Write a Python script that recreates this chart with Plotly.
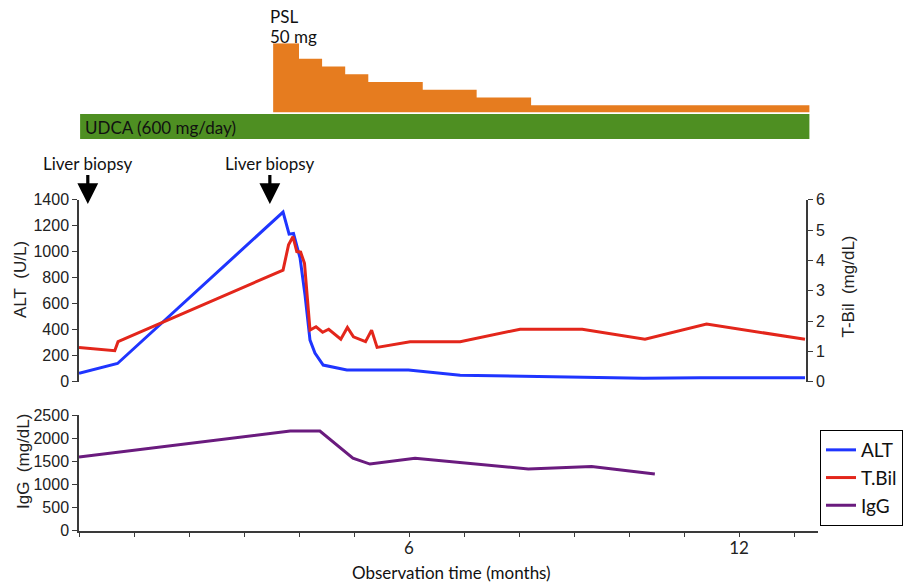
import plotly.graph_objects as go

W, H = 906, 584

# ---------------- data ----------------
alt_months = [0, 0.70, 3.71, 3.82, 3.90, 4.02, 4.11, 4.20, 4.29, 4.44, 4.87, 5.99,
              6.93, 9.11, 10.26, 11.29, 13.20]
alt_values = [65, 140, 1305, 1135, 1140, 950, 665, 320, 220, 128, 90, 90,
              50, 35, 26, 30, 30]

tbil_months = [0, 0.65, 0.71, 3.71, 3.81, 3.89, 3.96, 4.03, 4.10, 4.20, 4.31, 4.43,
               4.54, 4.76, 4.88, 4.99, 5.21, 5.32, 5.42, 6.02, 6.93, 8.02, 9.15,
               10.29, 11.41, 13.20]
tbil_values = [1.13, 1.02, 1.32, 3.68, 4.51, 4.78, 4.29, 4.27, 3.90, 1.70, 1.81, 1.63,
               1.73, 1.40, 1.79, 1.48, 1.32, 1.70, 1.13, 1.32, 1.32, 1.73, 1.73,
               1.40, 1.90, 1.40]

igg_months = [0, 3.84, 4.38, 4.98, 5.29, 6.11, 8.17, 9.32, 10.47]
igg_values = [1590, 2155, 2155, 1565, 1440, 1565, 1335, 1385, 1225]

psl_months = [3.53, 4.00, 4.42, 4.84, 5.26, 6.25, 7.23, 8.22, 13.28]
psl_doses = [50, 40, 35, 30, 25, 20, 15, 10, 10]

udca_start = 0.02
udca_end = 13.28
udca_label = "UDCA (600 mg/day)"

biopsy_months = [0.16, 3.47]
biopsy_label = "Liver biopsy"

x_tick_vals = list(range(14))
x_tick_text = ["" if m not in (6, 12) else str(m) for m in x_tick_vals]
alt_ticks = [0, 200, 400, 600, 800, 1000, 1200, 1400]
tbil_ticks = [0, 1, 2, 3, 4, 5, 6]
igg_ticks = [0, 500, 1000, 1500, 2000, 2500]

# ---------------- styling helpers ----------------
def fx(p):
    return p / W

def fy(p):
    return 1 - p / H

PX_PER_MONTH = 55.0
X0 = 79
HUM = "Lato, 'Open Sans', sans-serif"
ARI = "Arial, 'Liberation Sans', sans-serif"
AXC = "#3a3a3a"
C_ALT = "#1f35ff"
C_TBIL = "#e3261b"
C_IGG = "#6a1b7e"
C_PSL = "#e67c1f"
C_UDCA = "#4e8f22"

fig = go.Figure()

# top panel: PSL step dose, UDCA bar
fig.add_trace(go.Scatter(x=psl_months, y=psl_doses, mode="lines", line=dict(shape="hv", width=0, color=C_PSL),
                         fill="tozeroy", fillcolor=C_PSL, xaxis="x3", yaxis="y3", showlegend=False,
                         hoverinfo="skip"))
fig.add_trace(go.Bar(x=[udca_end - udca_start], base=[udca_start], y=[0], orientation="h", width=1,
                     marker=dict(color=C_UDCA, line=dict(width=0)), xaxis="x3", yaxis="y4",
                     showlegend=False, hoverinfo="skip"))

# middle panel
fig.add_trace(go.Scatter(x=alt_months, y=alt_values, mode="lines", name="ALT",
                         line=dict(color=C_ALT, width=3), xaxis="x2", yaxis="y2"))
fig.add_trace(go.Scatter(x=tbil_months, y=tbil_values, mode="lines", name="T.Bil",
                         line=dict(color=C_TBIL, width=3), xaxis="x2", yaxis="y5"))
# bottom panel
fig.add_trace(go.Scatter(x=igg_months, y=igg_values, mode="lines", name="IgG",
                         line=dict(color=C_IGG, width=3), xaxis="x", yaxis="y"))

axis_common = dict(showgrid=False, zeroline=False, showline=True, linecolor=AXC, linewidth=1.5,
                   ticks="outside", ticklen=5, tickwidth=1.3, tickcolor=AXC, automargin=False,
                   tickfont=dict(family=ARI, size=16, color="#222"))
hidden = dict(visible=False, automargin=False, showgrid=False, zeroline=False)

fig.update_layout(
    width=W, height=H, margin=dict(l=0, r=0, t=0, b=0, autoexpand=False),
    paper_bgcolor="white", plot_bgcolor="rgba(0,0,0,0)",
    xaxis=dict(domain=[fx(X0), fx(818)], range=[0, (818 - X0) / PX_PER_MONTH], anchor="y",
               tickvals=x_tick_vals, ticktext=x_tick_text, ticklabelstandoff=-4,
               **{**axis_common, "tickfont": dict(family=HUM, size=17, color="#222")}),
    yaxis=dict(domain=[fy(530.7), fy(415)], range=[0, 2500], tickvals=igg_ticks, anchor="x",
               **axis_common),
    xaxis2=dict(domain=[fx(X0), fx(806)], range=[0, (806 - X0) / PX_PER_MONTH], anchor="y2", **hidden),
    yaxis2=dict(domain=[fy(381.7), fy(199.7)], range=[0, 1400], tickvals=alt_ticks, anchor="x2",
                **axis_common),
    yaxis5=dict(overlaying="y2", side="right", anchor="x2", range=[0, 6], tickvals=tbil_ticks,
                **axis_common),
    xaxis3=dict(domain=[fx(X0), fx(818)], range=[0, (818 - X0) / PX_PER_MONTH], anchor="y3", **hidden),
    yaxis3=dict(domain=[fy(112.3), fy(43.3)], range=[5.48, 50], anchor="x3", **hidden),
    yaxis4=dict(domain=[fy(139), fy(114)], range=[-0.5, 0.5], anchor="x3", **hidden),
    legend=dict(x=fx(820), y=fy(430), xanchor="left", yanchor="top", bordercolor="black",
                borderwidth=1, bgcolor="white", font=dict(family=HUM, size=19, color="#111"),
                itemwidth=30, tracegroupgap=0),
    showlegend=True,
)

def label(text, x, y, size=17, family=HUM, angle=0, xanchor="center", color="#111"):
    return dict(text=text, x=fx(x), y=fy(y), xref="paper", yref="paper", xanchor=xanchor,
                yanchor="middle", showarrow=False, textangle=angle,
                font=dict(family=family, size=size, color=color))

ann = [
    label("PSL", 268, 17, xanchor="left"),
    label("50 mg", 268, 37, xanchor="left"),
    label(udca_label, 83, 127, size=17, xanchor="left"),
    label("ALT\u00a0 (U/L)", 21, 280, family=ARI, angle=-90, color="#222"),
    label("T-Bil\u00a0 (mg/dL)", 848, 286.5, family=ARI, angle=-90, color="#222"),
    label("IgG\u00a0 (mg/dL)", 23, 462, family=ARI, angle=-90, color="#222"),
    label("Observation time (months)", 451.5, 572),
]
for m in biopsy_months:
    ann.append(dict(text=biopsy_label, x=m, y=fy(204), xref="x2", yref="paper", showarrow=True,
                    ax=0, ay=-41, arrowhead=2, arrowsize=1.3, arrowwidth=3.2, arrowcolor="black",
                    font=dict(family=HUM, size=17, color="#111")))
fig.update_layout(annotations=ann)

fig.write_html("out.html", config={"displayModeBar": False},
               post_script="document.body.style.margin='0';")
